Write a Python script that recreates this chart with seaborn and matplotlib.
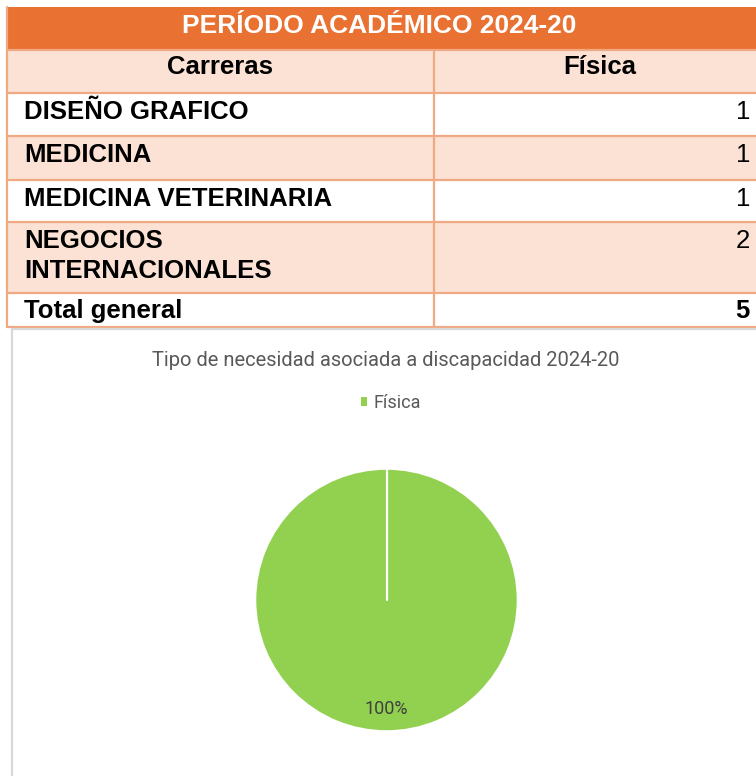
#!/usr/bin/env python3
"""Tabla de carreras y torta de tipo de necesidad, periodo 2024-20."""

import matplotlib
matplotlib.use("Agg")
import matplotlib.pyplot as plt
import numpy as np
from matplotlib.patches import Rectangle
import seaborn as sns

# Datos de la tabla
periodo = "PERÍODO ACADÉMICO 2024-20"
col_headers = ["Carreras", "Física"]
carreras = ["DISEÑO GRAFICO", "MEDICINA", "MEDICINA VETERINARIA", "NEGOCIOS\nINTERNACIONALES"]
fisica = [1, 1, 1, 2]
total_label = "Total general"

# Datos del grafico
chart_title = "Tipo de necesidad asociada a discapacidad 2024-20"
pie_labels = ["Física"]
pie_values = [sum(fisica)]

W, H = 756, 776
ORANGE = "#E97132"
PEACH = "#FBE2D5"
BORDER = "#F1A983"
GREEN = "#92D050"

sns.set_theme(style="white")
plt.rcParams["font.family"] = ["Liberation Sans", "DejaVu Sans"]
plt.rcParams["text.color"] = "black"

fig = plt.figure(figsize=(W / 100, H / 100), dpi=100)
ax = fig.add_axes([0, 0, 1, 1])
ax.set_xlim(0, W)
ax.set_ylim(H, 0)
ax.axis("off")

x0, xmid, x1 = 7, 434, 766
row_edges = [7, 50, 93, 136, 180, 222, 293, 327]
fs = 18.5

# Barra del periodo
ax.add_patch(Rectangle((x0, row_edges[0]), x1 - x0, row_edges[1] - row_edges[0], color=ORANGE, lw=0))
ax.text((x0 + x1) / 2 - 7, row_edges[0] + 26, periodo, color="white", fontsize=19,
        fontweight="bold", ha="center", va="baseline")

# Filas (encabezado, datos, total)
rows = [(col_headers[0], col_headers[1])] + list(zip(carreras, [str(v) for v in fisica]))
rows.append((total_label, str(sum(fisica))))
for i, (left, right) in enumerate(rows):
    top, bot = row_edges[i + 1], row_edges[i + 2]
    fill = PEACH if i % 2 == 0 and i < len(rows) - 1 else "white"
    ax.add_patch(Rectangle((x0, top), x1 - x0, bot - top, facecolor=fill, edgecolor="none"))
    if i == 0:
        ax.text((x0 + xmid) / 2, top + 24, left, fontsize=fs, fontweight="bold", ha="center", va="baseline")
        ax.text((xmid + x1) / 2, top + 24, right, fontsize=fs, fontweight="bold", ha="center", va="baseline")
        continue
    is_total = i == len(rows) - 1
    base = top + (25 if is_total else 26)
    for k, line in enumerate(left.split("\n")):
        ax.text(24, base + 30 * k, line, fontsize=fs, fontweight="bold", ha="left", va="baseline")
    ax.text(750, base, right, fontsize=fs, fontweight="bold" if is_total else "normal",
            ha="right", va="baseline")

# Bordes de la tabla
for y in row_edges[1:]:
    ax.plot([x0, x1], [y, y], color=BORDER, lw=1.6)
ax.plot([x0, x0], [row_edges[0], row_edges[-1]], color=BORDER, lw=1.6)
ax.plot([xmid, xmid], [row_edges[1], row_edges[-1]], color=BORDER, lw=1.6)

# Marco del grafico
ax.plot([12, 12, W], [H, 329, 329], color="#D9D9D9", lw=1.6)

ax.text(386, 366, chart_title, color="#595959", fontsize=14.5, ha="center", va="baseline",
        family=["Roboto", "DejaVu Sans"])

# Torta
cx, cy, r = 386.5, 600, 131.5
ax_pie = fig.add_axes([(cx - r) / W, 1 - (cy + r) / H, 2 * r / W, 2 * r / H])
wedges, _, autotexts = ax_pie.pie(
    pie_values, colors=sns.color_palette([GREEN]), startangle=90, counterclock=False,
    autopct="%1.0f%%", pctdistance=0.84,
    wedgeprops=dict(edgecolor="none"),
    textprops=dict(color="#404040", fontsize=13, family=["Roboto", "DejaVu Sans"]),
)
# borde radial blanco del unico sector
for w in wedges:
    ang = np.deg2rad(w.theta2)
    wx, wy = w.center
    ax_pie.plot([wx, wx + w.r * np.cos(ang)], [wy, wy + w.r * np.sin(ang)], color="white", lw=1.6)
ax_pie.set_xlim(-1.01, 1.01)
ax_pie.set_ylim(-1.01, 1.01)
ax_pie.set_aspect("equal")

fig.legend(wedges, pie_labels, loc="center", bbox_to_anchor=(391 / W, 1 - 403 / H), frameon=False,
           handlelength=0.33, handleheight=0.33, handletextpad=0.35,
           prop=dict(family=["Roboto", "DejaVu Sans"], size=13), labelcolor="#595959")

fig.savefig("out.png", dpi=100)
